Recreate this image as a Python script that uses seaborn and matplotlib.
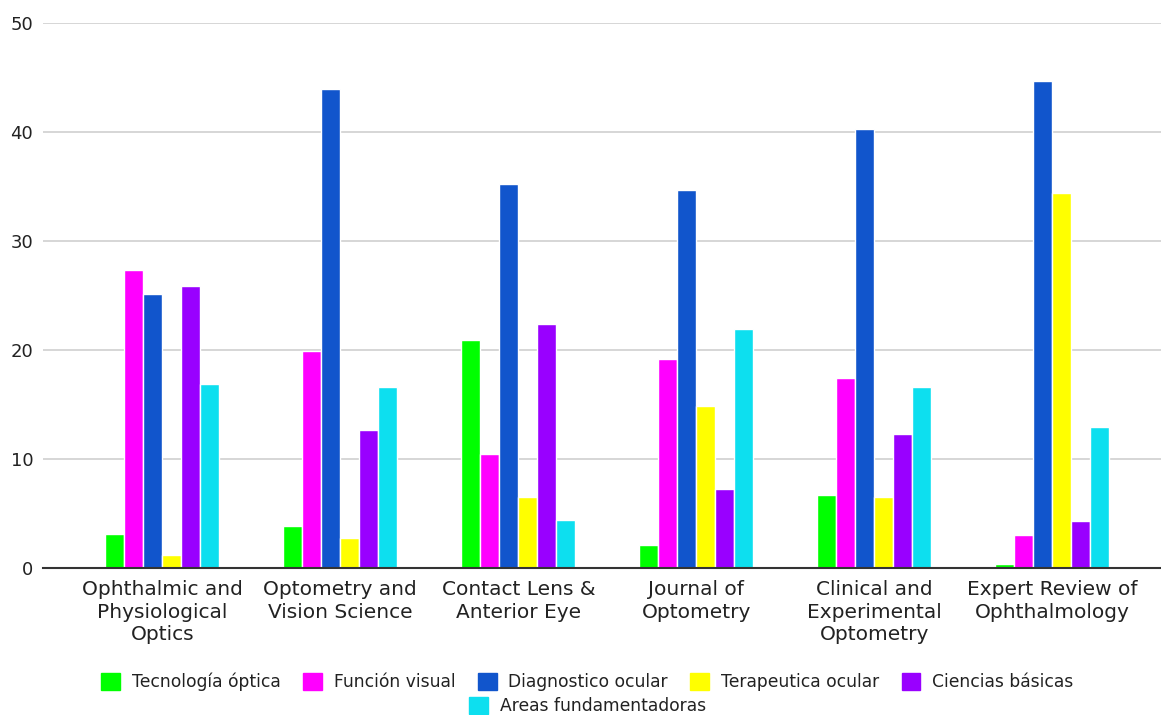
import pandas as pd
import matplotlib.pyplot as plt
import seaborn as sns
from matplotlib.patches import Patch

# --- datos ---
revistas = [
    "Ophthalmic and\nPhysiological\nOptics",
    "Optometry and\nVision Science",
    "Contact Lens &\nAnterior Eye",
    "Journal of\nOptometry",
    "Clinical and\nExperimental\nOptometry",
    "Expert Review of\nOphthalmology",
]
areas = [
    "Tecnología óptica",
    "Función visual",
    "Diagnostico ocular",
    "Terapeutica ocular",
    "Ciencias básicas",
    "Areas fundamentadoras",
]
tecnologia_optica = [3.1, 3.85, 20.9, 2.1, 6.7, 0.35]
funcion_visual = [27.3, 19.9, 10.5, 19.2, 17.4, 3.0]
diagnostico_ocular = [25.1, 43.9, 35.2, 34.7, 40.3, 44.7]
terapeutica_ocular = [1.2, 2.75, 6.5, 14.9, 6.5, 34.4]
ciencias_basicas = [25.9, 12.7, 22.4, 7.2, 12.3, 4.3]
areas_fundamentadoras = [16.9, 16.6, 4.4, 21.9, 16.6, 12.9]

colores = ["#00FF00", "#FF00FF", "#1155CC", "#FFFF00", "#9900FF", "#0DDFEF"]

series = [tecnologia_optica, funcion_visual, diagnostico_ocular,
          terapeutica_ocular, ciencias_basicas, areas_fundamentadoras]
filas = []
for area, valores in zip(areas, series):
    for revista, v in zip(revistas, valores):
        filas.append({"revista": revista, "area": area, "valor": v})
df = pd.DataFrame(filas)

sns.set_style("white")
plt.rcParams["font.family"] = ["DejaVu Sans"]

fig = plt.figure(figsize=(11.61, 7.15), dpi=100)
ax = fig.add_axes([0.037, 0.2056, 0.963, 0.7624])

sns.barplot(data=df, x="revista", y="valor", hue="area", order=revistas,
            hue_order=areas, palette=colores, width=0.64, dodge=True,
            edgecolor="white", linewidth=1.0, saturation=1, ax=ax, legend=False)

ax.set_ylim(0, 50)
ax.set_xlim(-0.67, 5.61)
ax.set_yticks([0, 10, 20, 30, 40, 50])
ax.yaxis.grid(True, color="#d0d0d0", linewidth=1.2)
ax.set_axisbelow(True)
ax.set_xlabel("")
ax.set_ylabel("")
for s in ["top", "right", "left"]:
    ax.spines[s].set_visible(False)
ax.spines["bottom"].set_color("#333333")
ax.spines["bottom"].set_linewidth(1.5)
ax.tick_params(axis="both", length=0, colors="#222222")
ax.tick_params(axis="y", labelsize=13, pad=7)
ax.tick_params(axis="x", labelsize=14.5, pad=9)
for t in ax.get_xticklabels():
    t.set_linespacing(1.22)

# --- leyenda en dos filas centradas ---
manijas = [Patch(facecolor=c, edgecolor=c) for c in colores]
kw = dict(frameon=False, fontsize=12.3, handlelength=1.1, handleheight=1.1,
          handletextpad=0.7, columnspacing=1.3, labelcolor="#222222")
fig.legend(manijas[:5], areas[:5], ncol=5, loc="center",
           bbox_to_anchor=(0.506, 0.046), **kw)
fig.legend(manijas[5:], areas[5:], ncol=1, loc="center",
           bbox_to_anchor=(0.506, 0.012), **kw)

fig.savefig("out.png", dpi=100, facecolor="white")
